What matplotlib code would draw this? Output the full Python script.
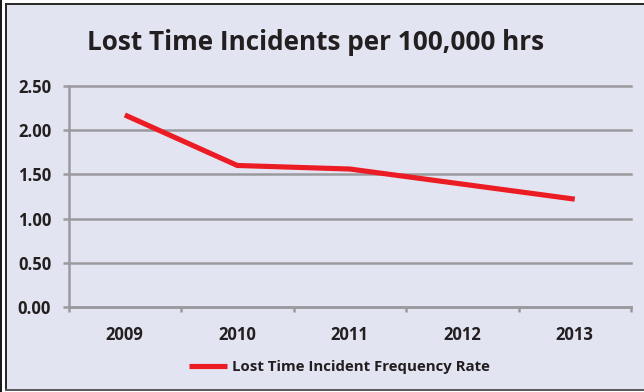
import matplotlib
matplotlib.use("Agg")
import matplotlib.pyplot as plt
from matplotlib.patches import Rectangle
from matplotlib.lines import Line2D

years = ["2009", "2010", "2011", "2012", "2013"]
rate = [2.17, 1.60, 1.56, 1.39, 1.22]
y_ticks = [0.0, 0.5, 1.0, 1.5, 2.0, 2.5]
y_tick_labels = ["0.00", "0.50", "1.00", "1.50", "2.00", "2.50"]
title = "Lost Time Incidents per 100,000 hrs"
series_name = "Lost Time Incident Frequency Rate"

W, H = 644, 392
BG = "#E3E4F1"
GRID = "#9A9A9E"
RED = "#EC1C24"
TXT = "#231F20"
FONT = "Open Sans"

fig = plt.figure(figsize=(W / 100, H / 100), dpi=100, facecolor="white")

def px(x0, y0, x1, y1):
    # pixel box (top-left origin) -> figure fraction rectangle
    return (x0 / W, 1 - y1 / H, (x1 - x0) / W, (y1 - y0) / H)

# panel background and frame
bg = px(6, 4, W, 390)
fig.patches.append(Rectangle(bg[:2], bg[2], bg[3], transform=fig.transFigure,
                             facecolor=BG, edgecolor="none", zorder=-2))
for box, col in [((0, 0, 2.3, H), "#1A1A1A"),
                 ((5, 3, 7.3, 390), "#2A2A2A"),
                 ((5, 3, W, 5.3), "#2A2A2A"),
                 ((5, 388.7, W, 391), "#5A5A5E")]:
    r = px(*box)
    fig.patches.append(Rectangle(r[:2], r[2], r[3], transform=fig.transFigure,
                                 facecolor=col, edgecolor="none", zorder=-1))

ax_l, ax_r, ax_t, ax_b = 68.6, 631, 85.7, 307.3
ax = fig.add_axes([ax_l / W, 1 - ax_b / H, (ax_r - ax_l) / W, (ax_b - ax_t) / H])
ax.set_facecolor("none")
ax.set_zorder(2)

x = list(range(len(years)))
ax.plot(x, rate, color=RED, lw=3.7, solid_capstyle="butt", solid_joinstyle="miter",
        zorder=3, clip_on=False)

ax.set_xlim(-0.5, len(years) - 0.5)
ax.set_ylim(0, 2.5)
ax.set_yticks(y_ticks)
ax.set_yticklabels(y_tick_labels)
ax.set_xticks([i - 0.5 for i in range(len(years) + 1)])
ax.set_xticklabels([])
ax.set_xticks(x, minor=True)
ax.set_xticklabels(years, minor=True)

for v in y_ticks:
    ax.axhline(v, color=GRID, lw=1.8, zorder=1, clip_on=False)

for s in ["top", "right"]:
    ax.spines[s].set_visible(False)
for s in ["left", "bottom"]:
    ax.spines[s].set_color(GRID)
    ax.spines[s].set_linewidth(1.8)

ax.tick_params(axis="y", which="major", length=4.5, width=1.8, color=GRID, pad=8,
               labelsize=12, labelcolor=TXT)
ax.tick_params(axis="x", which="major", length=3.5, width=1.8, color=GRID)
ax.tick_params(axis="x", which="minor", length=0, pad=13.5, labelsize=12, labelcolor=TXT)
for lab in ax.get_yticklabels() + ax.get_xticklabels(minor=True):
    lab.set_fontfamily(FONT)
    lab.set_fontweight("bold")
for lab in ax.get_xticklabels(minor=True):
    lab.set_x(lab.get_position()[0])

fig.text(316 / W, 1 - 42 / H, title, ha="center", va="center", fontsize=18.8,
         fontweight="bold", family=FONT, color=TXT)

handle = Line2D([], [], color=RED, lw=3.7, solid_capstyle="butt")
fig.legend([handle], [series_name], loc="center", bbox_to_anchor=(339.5 / W, 1 - 367.5 / H),
           frameon=False, handlelength=2.5, handletextpad=0.35,
           prop={"family": FONT, "weight": "bold", "size": 10.8}, labelcolor=TXT)

fig.savefig("out.png", dpi=100, facecolor="white")
